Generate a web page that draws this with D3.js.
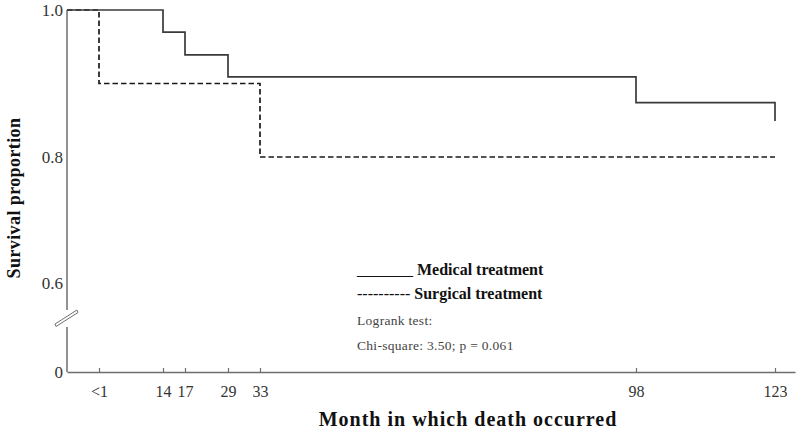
<!DOCTYPE html>
<html>
<head>
<meta charset="utf-8">
<script src="https://cdn.jsdelivr.net/npm/d3@7"></script>
<style>
  html, body { margin: 0; padding: 0; background: #fff; }
  svg { display: block; font-family: "Liberation Serif", "Times New Roman", serif; }
</style>
</head>
<body>
<svg id="chart" width="800" height="430"></svg>
<script>
// ---- data ----
const xTickValues = [0.5, 14, 17, 29, 33, 98, 123];
const xTickLabels = ["<1", "14", "17", "29", "33", "98", "123"];
const yTickValues = [0, 0.6, 0.8, 1.0];
const yTickLabels = ["0", "0.6", "0.8", "1.0"];

const medicalTimes = [0, 14, 17, 29, 98, 123];
const medicalSurvival = [1.0, 0.970, 0.939, 0.909, 0.874, 0.849];

const surgicalTimes = [0, 0.5, 33, 123];
const surgicalSurvival = [1.0, 0.9, 0.8, 0.8];

const legendLabels = ["Medical treatment", "Surgical treatment"];
const testLines = ["Logrank test:", "Chi-square: 3.50; p = 0.061"];

// ---- scales (the original axis is drawn non-uniformly; piecewise linear) ----
const svg = d3.select("#chart");
const x = d3.scaleLinear()
  .domain([0, 0.5, 14, 17, 29, 33, 98, 123, 126.6])
  .range([67, 99, 163, 185, 228, 260, 636, 775, 795]);
const y = d3.scaleLinear()
  .domain([0, 0.6, 0.8, 1.0])
  .range([372, 283, 157, 10]);

const axisColor = "#6e6e6e";
const textColor = "#333";

// ---- x axis ----
const xAxis = d3.axisBottom(x)
  .tickValues(xTickValues)
  .tickFormat((d, i) => xTickLabels[i])
  .tickSizeInner(-4)
  .tickSizeOuter(0)
  .tickPadding(14);
const gx = svg.append("g").attr("transform", `translate(0,${y(0)})`).call(xAxis);
gx.select(".domain").attr("stroke", axisColor).attr("stroke-width", 1.5);
gx.selectAll(".tick line").attr("stroke", axisColor).attr("stroke-width", 1.2);
gx.selectAll(".tick text")
  .attr("fill", textColor)
  .style("font-family", "Liberation Serif, serif")
  .style("font-size", "16px");

// ---- y axis (with break) ----
const breakCenter = y(0.6) + 35;
const gy = svg.append("g");
gy.append("line")
  .attr("x1", x(0)).attr("x2", x(0))
  .attr("y1", y(1.0)).attr("y2", breakCenter - 8)
  .attr("stroke", axisColor).attr("stroke-width", 1.5);
gy.append("line")
  .attr("x1", x(0)).attr("x2", x(0))
  .attr("y1", breakCenter + 9).attr("y2", y(0))
  .attr("stroke", axisColor).attr("stroke-width", 1.5);
// break symbol: thin slanted parallelogram
const bx = x(0), by = breakCenter;
gy.append("path")
  .attr("d", `M${bx - 12},${by + 6} L${bx + 10},${by - 8} L${bx + 11},${by - 5.5} L${bx - 11},${by + 8.5} Z`)
  .attr("fill", "#fff").attr("stroke", axisColor).attr("stroke-width", 1);

gy.selectAll("text.ytick")
  .data(yTickValues)
  .join("text")
  .attr("class", "ytick")
  .attr("x", x(0) - 4)
  .attr("y", d => y(d))
  .attr("dy", "0.33em")
  .attr("text-anchor", "end")
  .attr("fill", textColor)
  .style("font-size", "17px")
  .text((d, i) => yTickLabels[i]);

// ---- curves ----
const line = d3.line()
  .x(d => x(d[0]))
  .y(d => y(d[1]))
  .curve(d3.curveStepAfter);

const surgicalPts = surgicalTimes.map((t, i) => [t, surgicalSurvival[i]]);
const medicalPts = medicalTimes.map((t, i) => [t, medicalSurvival[i]]);

svg.append("path")
  .attr("d", line(surgicalPts))
  .attr("fill", "none")
  .attr("stroke", "#1a1a1a")
  .attr("stroke-width", 1.7)
  .attr("stroke-dasharray", "5.5,3");

svg.append("path")
  .attr("d", line(medicalPts))
  .attr("fill", "none")
  .attr("stroke", "#3a3a3a")
  .attr("stroke-width", 1.7);

// ---- axis titles ----
svg.append("text")
  .attr("transform", `translate(20,198) rotate(-90)`)
  .attr("text-anchor", "middle")
  .attr("font-weight", "bold")
  .attr("fill", "#111")
  .style("font-size", "18px")
  .style("letter-spacing", "0.4px")
  .text("Survival proportion");

svg.append("text")
  .attr("x", 468)
  .attr("y", 426)
  .attr("text-anchor", "middle")
  .attr("font-weight", "bold")
  .attr("fill", "#111")
  .style("font-size", "20px")
  .style("letter-spacing", "1px")
  .text("Month in which death occurred");

// ---- legend ----
const lg = svg.append("g").attr("transform", "translate(357,0)");
const leg1 = lg.append("text").attr("x", 0).attr("y", 275).style("font-size", "16px").attr("fill", "#111");
leg1.append("tspan").text("_______ ");
leg1.append("tspan").attr("font-weight", "bold").text(legendLabels[0]);
const leg2 = lg.append("text").attr("x", 0).attr("y", 299).style("font-size", "16px").attr("fill", "#111");
leg2.append("tspan").text("---------- ");
leg2.append("tspan").attr("font-weight", "bold").text(legendLabels[1]);

lg.selectAll("text.test")
  .data(testLines)
  .join("text")
  .attr("class", "test")
  .attr("x", 0)
  .attr("y", (d, i) => 325 + i * 25)
  .attr("fill", "#444")
  .style("font-size", "13.5px")
  .style("letter-spacing", "0.3px")
  .text(d => d);
</script>
</body>
</html>
